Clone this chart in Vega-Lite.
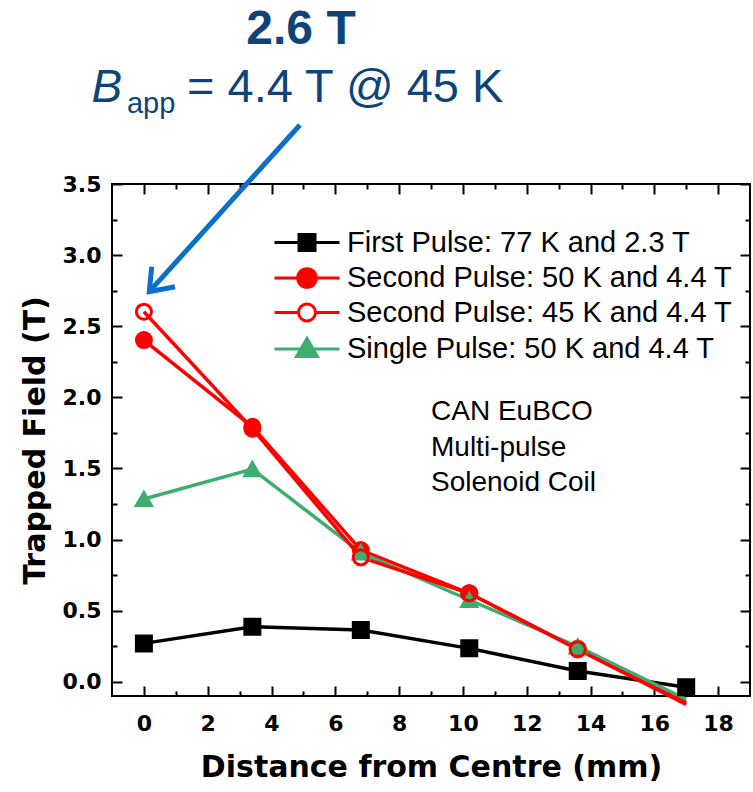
{
  "$schema": "https://vega.github.io/schema/vega-lite/v6.json",
  "width": 638,
  "height": 512,
  "autosize": {"type": "none"},
  "padding": {"left": 112, "top": 184, "right": 3, "bottom": 96},
  "background": "white",
  "config": {
    "view": {"stroke": "black", "strokeWidth": 2},
    "axis": {
      "grid": false,
      "domain": false,
      "tickColor": "black",
      "tickWidth": 2,
      "labelFont": "DejaVu Sans",
      "labelFontWeight": "bold",
      "labelFontSize": 22,
      "labelColor": "black",
      "titleFont": "DejaVu Sans",
      "titleFontWeight": "bold",
      "titleFontSize": 30,
      "titleColor": "black"
    }
  },
  "datasets": {
    "profiles": [
      {"series": "First Pulse: 77 K and 2.3 T", "x": 0, "y": 0.27},
      {"series": "First Pulse: 77 K and 2.3 T", "x": 3.4, "y": 0.387},
      {"series": "First Pulse: 77 K and 2.3 T", "x": 6.8, "y": 0.364},
      {"series": "First Pulse: 77 K and 2.3 T", "x": 10.2, "y": 0.235},
      {"series": "First Pulse: 77 K and 2.3 T", "x": 13.6, "y": 0.076},
      {"series": "First Pulse: 77 K and 2.3 T", "x": 17, "y": -0.039},
      {"series": "Second Pulse: 50 K and 4.4 T", "x": 0, "y": 2.403},
      {"series": "Second Pulse: 50 K and 4.4 T", "x": 3.4, "y": 1.793},
      {"series": "Second Pulse: 50 K and 4.4 T", "x": 6.8, "y": 0.926},
      {"series": "Second Pulse: 50 K and 4.4 T", "x": 10.2, "y": 0.622},
      {"series": "Second Pulse: 50 K and 4.4 T", "x": 13.6, "y": 0.232},
      {"series": "Second Pulse: 50 K and 4.4 T", "x": 17, "y": -0.145},
      {"series": "Single Pulse: 50 K and 4.4 T", "x": 0, "y": 1.285},
      {"series": "Single Pulse: 50 K and 4.4 T", "x": 3.4, "y": 1.495},
      {"series": "Single Pulse: 50 K and 4.4 T", "x": 6.8, "y": 0.909},
      {"series": "Single Pulse: 50 K and 4.4 T", "x": 10.2, "y": 0.575},
      {"series": "Single Pulse: 50 K and 4.4 T", "x": 13.6, "y": 0.248},
      {"series": "Single Pulse: 50 K and 4.4 T", "x": 17, "y": -0.123},
      {"series": "Second Pulse: 45 K and 4.4 T", "x": 0, "y": 2.602},
      {"series": "Second Pulse: 45 K and 4.4 T", "x": 3.4, "y": 1.78},
      {"series": "Second Pulse: 45 K and 4.4 T", "x": 6.8, "y": 0.875},
      {"series": "Second Pulse: 45 K and 4.4 T", "x": 10.2, "y": 0.622},
      {"series": "Second Pulse: 45 K and 4.4 T", "x": 13.6, "y": 0.228},
      {"series": "Second Pulse: 45 K and 4.4 T", "x": 17, "y": -0.16}
    ],
    "notes": [
      {"role": "head", "text": "2.6 T", "x": 4.925, "y": 4.482},
      {"role": "sym", "text": "B", "x": -1.643, "y": 4.079},
      {"role": "sub", "text": "app", "x": -0.53, "y": 4.0},
      {"role": "eq", "text": "= 4.4 T @ 45 K", "x": 1.351, "y": 4.079},
      {"role": "info", "text": "CAN EuBCO", "x": 9.0, "y": 1.841},
      {"role": "info", "text": "Multi-pulse", "x": 9.0, "y": 1.587},
      {"role": "info", "text": "Solenoid Coil", "x": 9.0, "y": 1.341}
    ],
    "arrow": [
      {"part": "shaft", "i": 0, "x": 4.89, "y": 3.915},
      {"part": "shaft", "i": 1, "x": 0.17, "y": 2.743},
      {"part": "head", "i": 0, "x": 0.245, "y": 2.918},
      {"part": "head", "i": 1, "x": 0.17, "y": 2.743},
      {"part": "head", "i": 2, "x": 0.975, "y": 2.778}
    ]
  },
  "layer": [
    {
      "data": {"name": "profiles"},
      "mark": {"type": "line", "strokeWidth": 3.5},
      "encoding": {
        "x": {"field": "x", "type": "quantitative", "scale": {"domain": [-1, 19], "nice": false, "zero": false},
              "axis": {"orient": "bottom", "values": [0, 2, 4, 6, 8, 10, 12, 14, 16, 18], "tickSize": -10, "labelPadding": 27, "format": "d", "title": "Distance from Centre (mm)", "titlePadding": 18}},
        "y": {"field": "y", "type": "quantitative", "scale": {"domain": [-0.1, 3.5], "nice": false, "zero": false},
              "axis": {"orient": "left", "values": [0, 0.5, 1, 1.5, 2, 2.5, 3, 3.5], "tickSize": -10, "labelPadding": 21, "format": ".1f", "title": "Trapped Field (T)", "titlePadding": 12}},
        "stroke": {"field": "series", "type": "nominal",
                   "scale": {"domain": ["First Pulse: 77 K and 2.3 T", "Second Pulse: 50 K and 4.4 T", "Second Pulse: 45 K and 4.4 T", "Single Pulse: 50 K and 4.4 T"], "range": ["black", "#FF0000", "#FF0000", "#3DAE6F"]},
                   "legend": null}
      }
    },
    {
      "data": {"name": "profiles"},
      "transform": [{"filter": "datum.y > -0.1"}],
      "mark": {"type": "point", "filled": false, "opacity": 1, "strokeWidth": 3},
      "encoding": {
        "x": {"field": "x", "type": "quantitative", "axis": {"orient": "top", "values": [0, 2, 4, 6, 8, 10, 12, 14, 16, 18], "tickSize": -10, "labels": false, "title": null}},
        "y": {"field": "y", "type": "quantitative", "axis": {"orient": "right", "values": [0, 0.5, 1, 1.5, 2, 2.5, 3, 3.5], "tickSize": -10, "labels": false, "title": null}},
        "shape": {"field": "series", "type": "nominal",
                  "scale": {"domain": ["First Pulse: 77 K and 2.3 T", "Second Pulse: 50 K and 4.4 T", "Second Pulse: 45 K and 4.4 T", "Single Pulse: 50 K and 4.4 T"], "range": ["square", "circle", "circle", "triangle-up"]},
                  "legend": null},
        "fill": {"field": "series", "type": "nominal",
                 "scale": {"domain": ["First Pulse: 77 K and 2.3 T", "Second Pulse: 50 K and 4.4 T", "Second Pulse: 45 K and 4.4 T", "Single Pulse: 50 K and 4.4 T"], "range": ["black", "#FF0000", "transparent", "#3DAE6F"]},
                 "legend": null},
        "stroke": {"field": "series", "type": "nominal",
                   "scale": {"domain": ["First Pulse: 77 K and 2.3 T", "Second Pulse: 50 K and 4.4 T", "Second Pulse: 45 K and 4.4 T", "Single Pulse: 50 K and 4.4 T"], "range": ["black", "#FF0000", "#FF0000", "#3DAE6F"]},
                   "legend": null},
        "size": {"field": "series", "type": "nominal",
                 "scale": {"domain": ["First Pulse: 77 K and 2.3 T", "Second Pulse: 50 K and 4.4 T", "Second Pulse: 45 K and 4.4 T", "Single Pulse: 50 K and 4.4 T"], "range": [225, 230, 215, 380]},
                 "legend": null}
      }
    },
    {
      "data": {"name": "profiles"},
      "transform": [{"filter": "datum.x == 0"}],
      "mark": {"type": "point", "filled": false, "opacity": 1, "strokeWidth": 3, "size": 400, "clip": true},
      "encoding": {
        "x": {"field": "x", "type": "quantitative", "axis": null},
        "y": {"datum": -5, "type": "quantitative", "axis": null},
        "shape": {"field": "series", "type": "nominal",
                  "scale": {"domain": ["First Pulse: 77 K and 2.3 T", "Second Pulse: 50 K and 4.4 T", "Second Pulse: 45 K and 4.4 T", "Single Pulse: 50 K and 4.4 T"],
                            "range": ["M-3.25,0H3.25M-0.8,-0.8H0.8V0.8H-0.8Z", "M-3.25,0H3.25M-0.93,0A0.93,0.93,0,1,0,0.93,0A0.93,0.93,0,1,0,-0.93,0Z", "M-3.25,0H-0.85M0.85,0H3.25M-0.85,0A0.85,0.85,0,1,0,0.85,0A0.85,0.85,0,1,0,-0.85,0Z", "M-3.25,0H3.25M0,-1.05L1.05,0.75L-1.05,0.75Z"]},
                  "legend": {"orient": "none", "legendX": 180.5, "legendY": 44, "title": null, "labelFont": "Liberation Sans", "labelFontSize": 29, "labelColor": "black", "labelOffset": 25.5, "rowPadding": 4.5, "padding": 0, "symbolSize": 400, "symbolStrokeWidth": 3, "labelLimit": 0}},
        "fill": {"field": "series", "type": "nominal",
                 "scale": {"domain": ["First Pulse: 77 K and 2.3 T", "Second Pulse: 50 K and 4.4 T", "Second Pulse: 45 K and 4.4 T", "Single Pulse: 50 K and 4.4 T"], "range": ["black", "#FF0000", "white", "#3DAE6F"]},
                 "legend": {"orient": "none", "legendX": 180.5, "legendY": 44, "title": null, "labelFont": "Liberation Sans", "labelFontSize": 29, "labelColor": "black", "labelOffset": 25.5, "rowPadding": 4.5, "padding": 0, "symbolSize": 400, "symbolStrokeWidth": 3, "labelLimit": 0}},
        "stroke": {"field": "series", "type": "nominal",
                   "scale": {"domain": ["First Pulse: 77 K and 2.3 T", "Second Pulse: 50 K and 4.4 T", "Second Pulse: 45 K and 4.4 T", "Single Pulse: 50 K and 4.4 T"], "range": ["black", "#FF0000", "#FF0000", "#3DAE6F"]},
                   "legend": {"orient": "none", "legendX": 180.5, "legendY": 44, "title": null, "labelFont": "Liberation Sans", "labelFontSize": 29, "labelColor": "black", "labelOffset": 25.5, "rowPadding": 4.5, "padding": 0, "symbolSize": 400, "symbolStrokeWidth": 3, "labelLimit": 0}}
      }
    },
    {
      "data": {"name": "notes"},
      "transform": [{"filter": "datum.role == 'head'"}],
      "mark": {"type": "text", "font": "Liberation Sans", "fontWeight": "bold", "fontSize": 48, "color": "#0E4479", "align": "center", "baseline": "alphabetic"},
      "encoding": {
        "x": {"field": "x", "type": "quantitative", "axis": null},
        "y": {"field": "y", "type": "quantitative", "axis": null},
        "text": {"field": "text"}
      }
    },
    {
      "data": {"name": "notes"},
      "transform": [{"filter": "datum.role == 'sym'"}],
      "mark": {"type": "text", "font": "Liberation Sans", "fontStyle": "italic", "fontSize": 46, "color": "#0E4479", "align": "left", "baseline": "alphabetic"},
      "encoding": {
        "x": {"field": "x", "type": "quantitative", "axis": null},
        "y": {"field": "y", "type": "quantitative", "axis": null},
        "text": {"field": "text"}
      }
    },
    {
      "data": {"name": "notes"},
      "transform": [{"filter": "datum.role == 'sub'"}],
      "mark": {"type": "text", "font": "Liberation Sans", "fontSize": 29, "color": "#0E4479", "align": "left", "baseline": "alphabetic"},
      "encoding": {
        "x": {"field": "x", "type": "quantitative", "axis": null},
        "y": {"field": "y", "type": "quantitative", "axis": null},
        "text": {"field": "text"}
      }
    },
    {
      "data": {"name": "notes"},
      "transform": [{"filter": "datum.role == 'eq'"}],
      "mark": {"type": "text", "font": "Liberation Sans", "fontSize": 47, "color": "#0E4479", "align": "left", "baseline": "alphabetic"},
      "encoding": {
        "x": {"field": "x", "type": "quantitative", "axis": null},
        "y": {"field": "y", "type": "quantitative", "axis": null},
        "text": {"field": "text"}
      }
    },
    {
      "data": {"name": "notes"},
      "transform": [{"filter": "datum.role == 'info'"}],
      "mark": {"type": "text", "font": "Liberation Sans", "fontSize": 28, "color": "black", "align": "left", "baseline": "alphabetic"},
      "encoding": {
        "x": {"field": "x", "type": "quantitative", "axis": null},
        "y": {"field": "y", "type": "quantitative", "axis": null},
        "text": {"field": "text"}
      }
    },
    {
      "data": {"name": "arrow"},
      "transform": [{"filter": "datum.part == 'shaft'"}],
      "mark": {"type": "line", "stroke": "#0B6FCB", "strokeWidth": 5, "strokeCap": "butt"},
      "encoding": {
        "x": {"field": "x", "type": "quantitative", "axis": {"orient": "bottom", "values": [1, 3, 5, 7, 9, 11, 13, 15, 17], "tickSize": -5, "labels": false, "title": null}},
        "y": {"field": "y", "type": "quantitative", "axis": {"orient": "left", "values": [0.25, 0.75, 1.25, 1.75, 2.25, 2.75, 3.25], "tickSize": -5, "labels": false, "title": null}},
        "order": {"field": "i", "type": "quantitative"}
      }
    },
    {
      "data": {"name": "arrow"},
      "transform": [{"filter": "datum.part == 'head'"}],
      "mark": {"type": "line", "stroke": "#0B6FCB", "strokeWidth": 5, "strokeCap": "butt", "strokeJoin": "miter"},
      "encoding": {
        "x": {"field": "x", "type": "quantitative", "axis": {"orient": "top", "values": [1, 3, 5, 7, 9, 11, 13, 15, 17], "tickSize": -5, "labels": false, "title": null}},
        "y": {"field": "y", "type": "quantitative", "axis": {"orient": "right", "values": [0.25, 0.75, 1.25, 1.75, 2.25, 2.75, 3.25], "tickSize": -5, "labels": false, "title": null}},
        "order": {"field": "i", "type": "quantitative"}
      }
    }
  ],
  "resolve": {
    "scale": {"fill": "independent", "stroke": "independent", "shape": "independent", "size": "independent"},
    "axis": {"x": "independent", "y": "independent"}
  }
}
